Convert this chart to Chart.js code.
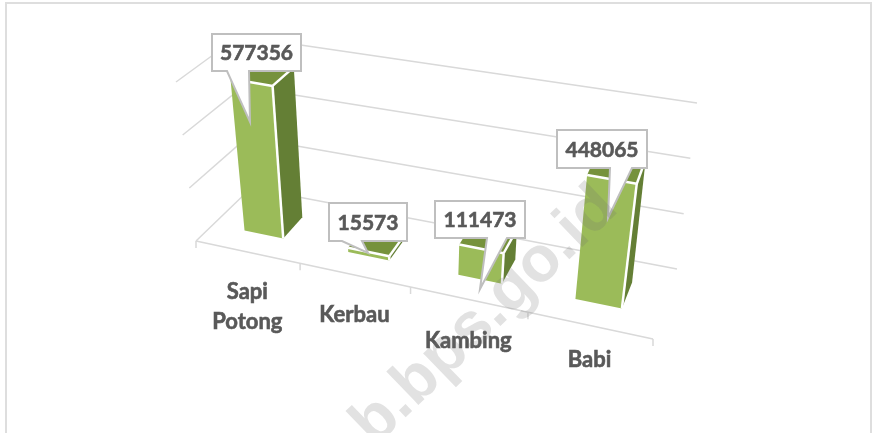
<!DOCTYPE html>
<html>
<head>
<meta charset="utf-8">
<script src="https://cdn.jsdelivr.net/npm/chart.js@4/dist/chart.umd.min.js"></script>
<style>
  html, body { margin: 0; padding: 0; background: #fff; }
  #wrap { width: 872px; height: 433px; position: relative; overflow: hidden; }
</style>
</head>
<body>
<div id="wrap"><canvas id="c" width="872" height="433"></canvas></div>
<script>
// values
const categories = [['Sapi', 'Potong'], ['Kerbau'], ['Kambing'], ['Babi']];
const populasi = [577356, 15573, 111473, 448065];
const axisTicks = [0, 200000, 400000, 600000];

// ── 3D box of the plot: corner pixels of the Excel-style perspective ──
const floorFL = [196, 241], floorFR = [653, 339], floorBL = [251, 188], floorBR = [677, 269];
const roofFL = [176, 82], roofFR = [678, 170], roofBL = [239, 36], roofBR = [697, 103];
const xSqueeze = 1.13;          // perspective foreshortening along the category axis
const barDepth = [0.32, 0.70];  // bar front/back inside the floor depth

// callout boxes: [left, top, right, bottom], then pointer [baseL, baseR, tipX, tipY]
const calloutBox = [[212, 34, 301, 71], [329, 203, 407, 241], [435, 201, 525, 238], [557, 130, 647, 168]];
const calloutTip = [[227, 249, 250, 122], [342, 362, 368, 253], [487, 507, 480, 289], [610, 632, 608, 218]];
const labelDrop = [40, 40, 42, 35];

const FONT = "Lato, sans-serif";
const GRID = '#d9d9d9', TEXT = '#595959';

function mix(a, b, k) { return [a[0] + (b[0] - a[0]) * k, a[1] + (b[1] - a[1]) * k]; }

// s: 0..1 across categories, d: 0 front..1 back, v: 0..1 up the value axis
function project(s, d, v) {
  const t = s / (s + (1 - s) * xSqueeze);
  const floor = mix(mix(floorFL, floorFR, t), mix(floorBL, floorBR, t), d);
  const roof = mix(mix(roofFL, roofFR, t), mix(roofBL, roofBR, t), d);
  return mix(floor, roof, v);
}

function line(ctx, a, b, color, w) {
  ctx.strokeStyle = color;
  ctx.lineWidth = w;
  ctx.beginPath();
  ctx.moveTo(a[0], a[1]);
  ctx.lineTo(b[0], b[1]);
  ctx.stroke();
}

function quad(ctx, pts, color) {
  ctx.fillStyle = color;
  ctx.beginPath();
  pts.forEach((p, i) => i ? ctx.lineTo(p[0], p[1]) : ctx.moveTo(p[0], p[1]));
  ctx.closePath();
  ctx.fill();
}

// Lato bold reads thinner than the original face, so fatten it a little
function heavyText(ctx, txt, x, y) {
  ctx.fillStyle = TEXT;
  ctx.strokeStyle = TEXT;
  ctx.lineWidth = 0.6;
  ctx.fillText(txt, x, y);
  ctx.strokeText(txt, x, y);
}

const bars3d = {
  id: 'bars3d',
  afterDatasetsDraw(chart) {
    const { ctx, chartArea: a, scales } = chart;
    const sOf = px => (px - a.left) / (a.right - a.left);
    const vOf = val => (scales.y.bottom - scales.y.getPixelForValue(val)) / (scales.y.bottom - scales.y.top);

    ctx.save();
    ctx.lineCap = 'butt';

    // outer frame, only top, left and right show in the crop
    ctx.strokeStyle = '#dedede';
    ctx.lineWidth = 2;
    ctx.beginPath();
    ctx.moveTo(6, 440); ctx.lineTo(6, 3); ctx.lineTo(871, 3); ctx.lineTo(871, 440);
    ctx.stroke();

    // walls
    scales.y.ticks.forEach(tk => {
      const v = vOf(tk.value);
      line(ctx, project(0, 0, v), project(0, 1, v), GRID, 1.5);
      line(ctx, project(0, 1, v), project(1, 1, v), GRID, 1.5);
    });
    // floor front edge and tick marks
    line(ctx, project(0, 0, 0), project(1, 0, 0), GRID, 1.5);
    for (let i = 0; i <= categories.length; i++) {
      const p = project(i / categories.length, 0, 0);
      line(ctx, p, [p[0], p[1] + 7], GRID, 1.5);
    }

    // bars, from the library's own bar elements
    const [d0, d1] = barDepth;
    chart.getDatasetMeta(0).data.forEach((el, i) => {
      const s0 = sOf(el.x - el.width / 2), s1 = sOf(el.x + el.width / 2);
      const v = vOf(populasi[i]);
      const fbl = project(s0, d0, 0), fbr = project(s1, d0, 0);
      const ftl = project(s0, d0, v), ftr = project(s1, d0, v);
      const bbr = project(s1, d1, 0), btr = project(s1, d1, v), btl = project(s0, d1, v);
      quad(ctx, [ftl, btl, btr, ftr], '#76923c');
      quad(ctx, [fbr, bbr, btr, ftr], '#647f35');
      quad(ctx, [fbl, fbr, ftr, ftl], '#9bbb59');
      line(ctx, ftl, ftr, '#fff', 2.5);
      line(ctx, ftr, btr, '#fff', 2.5);
      line(ctx, ftr, fbr, '#fff', 2.5);
    });

    // category labels
    ctx.font = '700 22px ' + FONT;
    ctx.textAlign = 'center';
    ctx.textBaseline = 'middle';
    categories.forEach((lines, i) => {
      const p = project((i + 0.5) / categories.length, 0, 0);
      lines.forEach((txt, k) => heavyText(ctx, txt, p[0], p[1] + labelDrop[i] + k * 30));
    });

    // callouts
    populasi.forEach((val, i) => {
      const [l, t, r, b] = calloutBox[i];
      const [b0, b1, tx, ty] = calloutTip[i];
      ctx.beginPath();
      ctx.moveTo(l, t); ctx.lineTo(r, t); ctx.lineTo(r, b); ctx.lineTo(b1, b);
      ctx.lineTo(tx, ty); ctx.lineTo(b0, b); ctx.lineTo(l, b);
      ctx.closePath();
      ctx.fillStyle = '#fff';
      ctx.fill();
      ctx.strokeStyle = '#bfbfbf';
      ctx.lineWidth = 2;
      ctx.stroke();
      ctx.font = '700 21px ' + FONT;
      heavyText(ctx, String(val), (l + r) / 2, (t + b) / 2 + 1);
    });

    // site watermark over everything
    ctx.translate(606, 196);
    ctx.rotate(-44 * Math.PI / 180);
    ctx.fillStyle = 'rgba(110,110,110,.2)';
    ctx.font = '700 64px "Liberation Sans", sans-serif';
    ctx.textAlign = 'right';
    ctx.textBaseline = 'alphabetic';
    ctx.fillText('b.bps.go.id', 0, 20);
    ctx.restore();
  }
};

new Chart(document.getElementById('c'), {
  type: 'bar',
  data: {
    labels: categories,
    datasets: [{
      data: populasi,
      backgroundColor: 'transparent',
      categoryPercentage: 0.38,
      barPercentage: 1
    }]
  },
  options: {
    responsive: false,
    animation: false,
    layout: { padding: 0 },
    plugins: { legend: { display: false }, tooltip: { enabled: false } },
    scales: {
      x: { display: false },
      y: {
        display: false,
        min: axisTicks[0],
        max: axisTicks[axisTicks.length - 1],
        ticks: { stepSize: axisTicks[1] - axisTicks[0] }
      }
    }
  },
  plugins: [bars3d]
});
</script>
</body>
</html>
